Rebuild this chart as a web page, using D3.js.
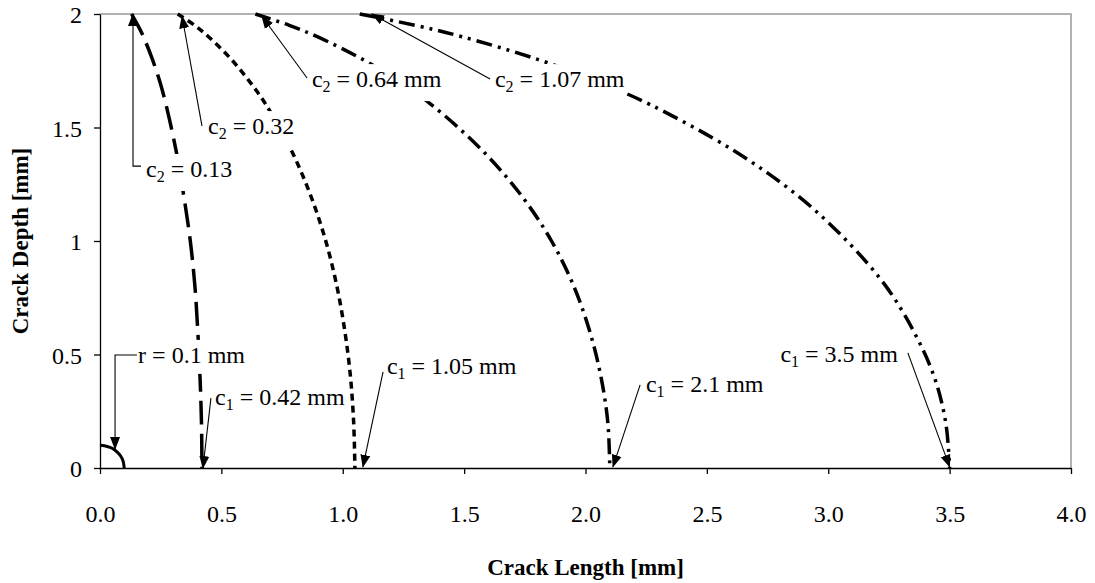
<!DOCTYPE html>
<html>
<head>
<meta charset="utf-8">
<script src="https://cdn.jsdelivr.net/npm/d3@7"></script>
<style>
  body { margin: 0; background: #fff; }
  text { font-family: "Liberation Serif", "Times New Roman", serif; }
</style>
</head>
<body>
<div id="chart"></div>
<script>
const depths = [2.0, 1.95, 1.9, 1.8, 1.7, 1.6, 1.4, 1.2, 1.0, 0.8, 0.6, 0.4, 0.2, 0];
const front042 = [0.13, 0.156, 0.179, 0.216, 0.247, 0.272, 0.313, 0.345, 0.372, 0.391, 0.403, 0.412, 0.418, 0.42];
const front105 = [0.32, 0.39, 0.447, 0.541, 0.618, 0.684, 0.788, 0.868, 0.93, 0.976, 1.009, 1.032, 1.045, 1.05];
const front210 = [0.64, 0.78, 0.895, 1.082, 1.236, 1.366, 1.574, 1.736, 1.86, 1.952, 2.018, 2.064, 2.092, 2.1];
const front350 = [1.07, 1.299, 1.491, 1.803, 2.055, 2.268, 2.608, 2.874, 3.077, 3.238, 3.353, 3.437, 3.484, 3.5];

// initial notch, r = 0.1 mm
const notchX = [0, 0.03, 0.05, 0.07, 0.085, 0.095, 0.1];
const notchY = [0.1, 0.095, 0.087, 0.071, 0.053, 0.031, 0];

const xTicks = [0, 0.5, 1, 1.5, 2, 2.5, 3, 3.5, 4];
const yTicks = [0, 0.5, 1, 1.5, 2];

// labels: [main, subscript, rest], text anchor point and leader line (tip last)
const notes = [
  { parts: ["c", "2", " = 0.13"], at: [0.19, 1.282], anchor: "start", path: [[0.169, 1.33], [0.136, 1.33], [0.136, 2.0]] },
  { parts: ["c", "2", " = 0.32"], at: [0.445, 1.471], anchor: "start", path: [[0.42, 1.507], [0.338, 1.99]] },
  { parts: ["c", "2", " = 0.64 mm"], at: [0.873, 1.678], anchor: "start", path: [[0.853, 1.718], [0.667, 1.99]] },
  { parts: ["c", "2", " = 1.07 mm"], at: [1.627, 1.678], anchor: "start", path: [[1.607, 1.714], [1.12, 2.0]] },
  { parts: ["r = 0.1 mm", "", ""], at: [0.157, 0.463], anchor: "start", path: [[0.152, 0.498], [0.062, 0.498], [0.062, 0.084]] },
  { parts: ["c", "1", " = 0.42 mm"], at: [0.474, 0.278], anchor: "start", path: [[0.457, 0.308], [0.424, 0.0]] },
  { parts: ["c", "1", " = 1.05 mm"], at: [1.182, 0.414], anchor: "start", path: [[1.166, 0.423], [1.083, 0.005]] },
  { parts: ["c", "1", " = 2.1 mm"], at: [2.249, 0.335], anchor: "start", path: [[2.225, 0.366], [2.113, 0.005]] },
  { parts: ["c", "1", " = 3.5 mm"], at: [3.287, 0.467], anchor: "end", path: [[3.328, 0.507], [3.5, 0.005]] }
];

const W = 1095, H = 583;
const x = d3.scaleLinear().domain([0, 4]).range([100, 1071]);
const y = d3.scaleLinear().domain([0, 2]).range([468, 14]);

const svg = d3.select("#chart").append("svg")
  .attr("width", W).attr("height", H);

// arrow head
svg.append("defs").append("marker")
  .attr("id", "arrow")
  .attr("markerUnits", "userSpaceOnUse")
  .attr("viewBox", "0 -6 13 12")
  .attr("refX", 12).attr("refY", 0)
  .attr("markerWidth", 13).attr("markerHeight", 12)
  .attr("orient", "auto")
  .append("path")
  .attr("d", "M0,-5L13,0L0,5Z")
  .attr("fill", "#000");

// frame (top + right in grey)
svg.append("path")
  .attr("d", `M${x(0)},${y(2)}H${x(4)}V${y(0)}`)
  .attr("fill", "none").attr("stroke", "#999").attr("stroke-width", 1.5);

// axes
const xAxis = svg.append("g")
  .attr("transform", `translate(0,${y(0)})`)
  .call(d3.axisBottom(x).tickValues(xTicks).tickFormat(d3.format(".1f"))
    .tickSize(6).tickSizeOuter(0).tickPadding(31));
const yAxis = svg.append("g")
  .attr("transform", `translate(${x(0)},0)`)
  .call(d3.axisLeft(y).tickValues(yTicks).tickFormat(d3.format("~g"))
    .tickSize(6).tickSizeOuter(0).tickPadding(12));
[xAxis, yAxis].forEach(g => {
  g.selectAll("path, line").attr("stroke", "#000").attr("stroke-width", 1.3);
  g.selectAll("text").attr("font-size", 24).attr("fill", "#000")
    .style("font-family", "'Liberation Serif', 'Times New Roman', serif");
});
yAxis.selectAll("text").attr("dy", "0.36em");

// crack fronts
const line = d3.line().x(d => x(d[0])).y(d => y(d[1])).curve(d3.curveCatmullRom);
const fronts = [
  { xs: front042, dash: "24,9" },
  { xs: front105, dash: "7,5" },
  { xs: front210, dash: "16,6,3,6" },
  { xs: front350, dash: "16,6,3,6,3,6" }
];
fronts.forEach(f => {
  svg.append("path")
    .datum(f.xs.map((v, i) => [v, depths[i]]))
    .attr("d", line)
    .attr("fill", "none").attr("stroke", "#000")
    .attr("stroke-width", 3.5).attr("stroke-dasharray", f.dash);
});
svg.append("path")
  .datum(notchX.map((v, i) => [v, notchY[i]]))
  .attr("d", line)
  .attr("fill", "none").attr("stroke", "#000").attr("stroke-width", 3);

// labels with white boxes, then leader arrows
notes.forEach(n => {
  const g = svg.append("g");
  const t = g.append("text")
    .attr("x", x(n.at[0])).attr("y", y(n.at[1]))
    .attr("text-anchor", n.anchor)
    .attr("font-size", 24).attr("fill", "#000");
  t.append("tspan").text(n.parts[0]);
  if (n.parts[1]) {
    t.append("tspan").attr("dy", 5).attr("font-size", 16).text(n.parts[1]);
    t.append("tspan").attr("dy", -5).text(n.parts[2]);
  }
  const b = t.node().getBBox();
  g.insert("rect", "text")
    .attr("x", b.x - 5).attr("y", b.y - 2)
    .attr("width", b.width + 6).attr("height", b.height + 8)
    .attr("fill", "#fff");
});
notes.forEach(n => {
  svg.append("path")
    .attr("d", d3.line()(n.path.map(p => [x(p[0]), y(p[1])])))
    .attr("fill", "none").attr("stroke", "#000").attr("stroke-width", 1.1)
    .attr("marker-end", "url(#arrow)");
});

// axis titles
svg.append("text")
  .attr("x", (x(0) + x(4)) / 2).attr("y", 575)
  .attr("text-anchor", "middle")
  .attr("font-size", 23).attr("font-weight", "bold")
  .text("Crack Length [mm]");
svg.append("text")
  .attr("transform", `translate(28,${(y(0) + y(2)) / 2}) rotate(-90)`)
  .attr("text-anchor", "middle")
  .attr("font-size", 23).attr("font-weight", "bold")
  .text("Crack Depth [mm]");
</script>
</body>
</html>
